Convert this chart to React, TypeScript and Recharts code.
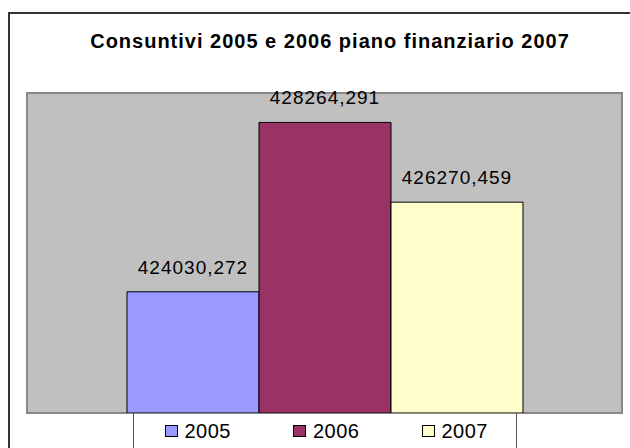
import * as React from "react";
import { BarChart, Bar, XAxis, YAxis, CartesianGrid, ReferenceArea, LabelList, Legend } from "recharts";

const years = ["2005", "2006", "2007"];
const values = [424030.272, 428264.291, 426270.459];
const yDomain = [421000, 429000];

const colors = ["#9999FF", "#993366", "#FFFFCC"];
const FONT = '"Liberation Sans", Arial, sans-serif';

const row: Record<string, number | string> = { name: "Consuntivi" };
years.forEach((y, i) => {
  row[y] = values[i];
});
const data = [row];

const fmt = (v: any) => Number(v).toFixed(3).replace(".", ",");

const LegendBox = () => (
  <div
    style={{
      width: 384,
      height: 35,
      margin: "0 auto",
      boxSizing: "border-box",
      borderLeft: "1px solid #555",
      borderRight: "1px solid #555",
      display: "flex",
      alignItems: "center",
      paddingLeft: 31,
      gap: 62,
      fontFamily: FONT,
      fontSize: 20,
      letterSpacing: 0.5,
      color: "#000",
    }}
  >
    {years.map((y, i) => (
      <div key={y} style={{ display: "flex", alignItems: "center", gap: 7, lineHeight: "20px" }}>
        <span
          style={{
            display: "inline-block",
            width: 11,
            height: 10,
            border: "1px solid #000",
            background: colors[i],
          }}
        />
        <span>{y}</span>
      </div>
    ))}
  </div>
);

export default function App() {
  return (
    <div style={{ position: "absolute", left: 0, top: 0, width: 630, height: 448, overflow: "hidden", background: "#fff" }}>
      <div
        style={{
          position: "absolute",
          left: 8,
          top: 12,
          width: 700,
          height: 500,
          borderLeft: "2px solid #333",
          borderTop: "2px solid #333",
        }}
      />
      <div style={{ position: "absolute", left: 0, top: 0, width: 630, height: 448 }}>
        <BarChart
          width={630}
          height={448}
          data={data}
          margin={{ top: 93, right: 8, bottom: 0, left: 27 }}
          barGap={0}
        >
          <CartesianGrid horizontal={false} vertical={false} fill="#C0C0C0" fillOpacity={1} />
          <XAxis dataKey="name" hide />
          <YAxis hide domain={yDomain} allowDataOverflow />
          <ReferenceArea
            y1={yDomain[0]}
            y2={yDomain[1]}
            fill="none"
            stroke="#888"
            strokeWidth={2}
            ifOverflow="visible"
          />
          {years.map((y, i) => (
            <Bar
              key={y}
              dataKey={y}
              fill={colors[i]}
              stroke="#000"
              strokeWidth={1}
              barSize={132}
              isAnimationActive={false}
            >
              <LabelList
                dataKey={y}
                position="top"
                offset={18}
                formatter={fmt}
                fill="#000"
                fontSize={19}
                fontFamily={FONT}
                letterSpacing={1}
              />
            </Bar>
          ))}
          <Legend verticalAlign="bottom" content={() => <LegendBox />} />
        </BarChart>
      </div>
      <div
        style={{
          position: "absolute",
          left: 0,
          top: 31,
          width: 660,
          textAlign: "center",
          fontFamily: FONT,
          fontWeight: "bold",
          fontSize: 20,
          lineHeight: "20px",
          letterSpacing: 1,
          color: "#000",
        }}
      >
        Consuntivi 2005 e 2006 piano finanziario 2007
      </div>
    </div>
  );
}
